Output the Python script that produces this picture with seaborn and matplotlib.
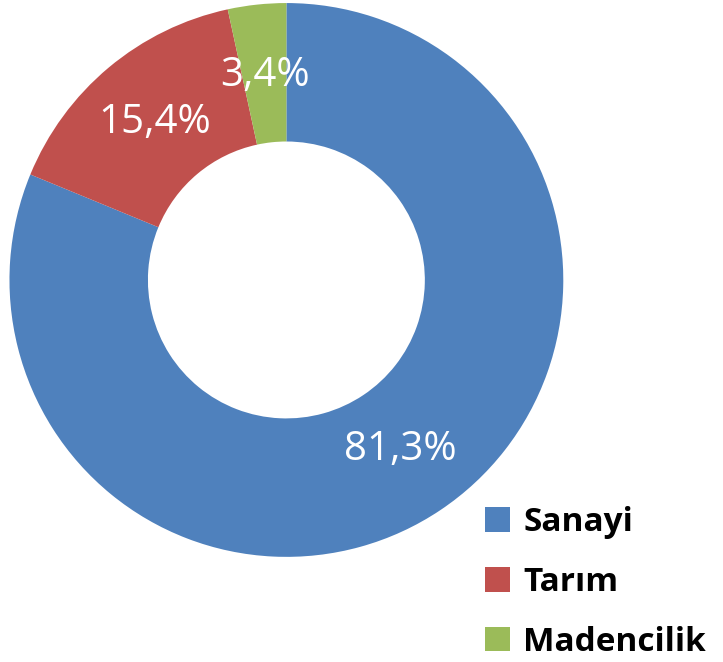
import matplotlib
matplotlib.use("Agg")
import matplotlib.pyplot as plt
import seaborn as sns
from matplotlib.patches import Patch

# chart data
sectors = ['Sanayi', 'Tarım', 'Madencilik']
shares = [81.3, 15.4, 3.4]
share_labels = ['81,3%', '15,4%', '3,4%']
colors = ['#4F81BD', '#C0504D', '#9BBB59']

sns.set_theme(style="white")
plt.rcParams['font.family'] = ['Open Sans', 'DejaVu Sans']

fig = plt.figure(figsize=(7.23, 6.62), dpi=100)
ax = fig.add_axes([0.0131, 0.1586, 0.766, 0.837])

label_iter = iter(share_labels)
wedges, texts, autotexts = ax.pie(
    shares, colors=colors, startangle=90, counterclock=False,
    radius=1.0, wedgeprops=dict(width=0.5, edgecolor='none'),
    autopct=lambda p: next(label_iter), pctdistance=0.74,
    textprops=dict(color='white', fontsize=29))
ax.set_xlim(-1, 1)
ax.set_ylim(-1, 1)
ax.set_aspect('equal')
ax.axis('off')

handles = [Patch(facecolor=c, edgecolor='none') for c in colors]
leg = fig.legend(handles, sectors, loc='lower right',
                 bbox_to_anchor=(0.995, -0.015), frameon=False,
                 prop=dict(weight='bold', size=24),
                 handlelength=0.75, handleheight=0.75, handletextpad=0.4,
                 labelspacing=0.8, borderaxespad=0)
for t in leg.get_texts():
    t.set_color('black')

fig.savefig('out.png', dpi=100)
